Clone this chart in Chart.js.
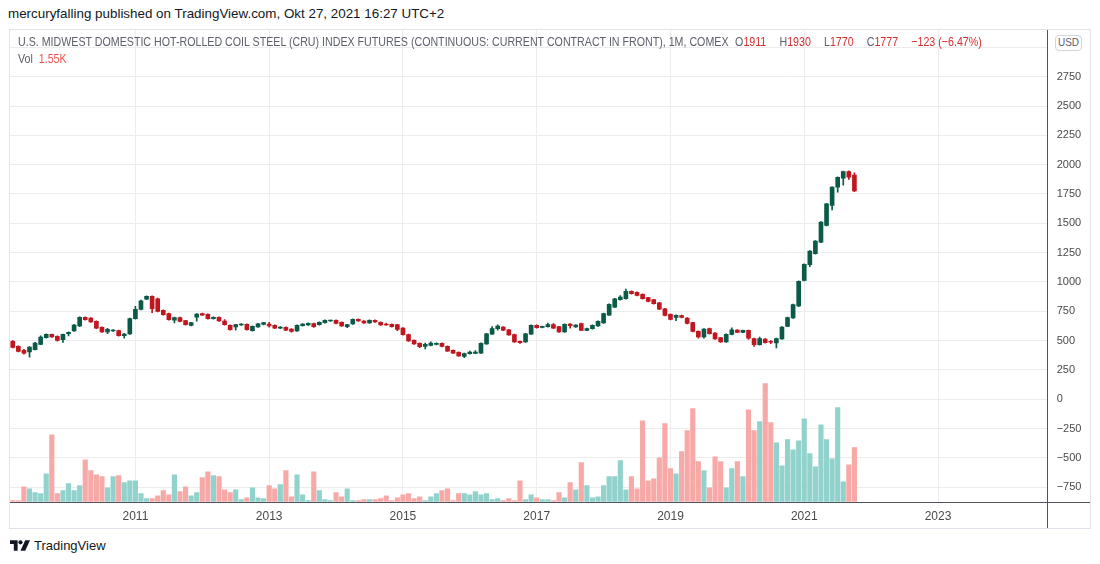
<!DOCTYPE html>
<html>
<head>
<meta charset="utf-8">
<script src="https://cdn.jsdelivr.net/npm/chart.js@4.4.0/dist/chart.umd.min.js"></script>
<style>
  body { margin: 0; background: #fff; width: 1100px; height: 564px; overflow: hidden; font-family: "Liberation Sans", Arial, sans-serif; }
  #pub { position: absolute; left: 8px; top: 6px; font-size: 13.4px; color: #131722; white-space: nowrap; }
  #frame { position: absolute; left: 9px; top: 29px; width: 1080px; height: 498px; border: 1px solid #e0e3eb; }
  #legend { position: absolute; left: 8px; top: 3px; font-size: 13px; color: #5d606b; white-space: nowrap; line-height: 17px;
            transform: scaleX(0.82); transform-origin: 0 0; }
  #legend .r { color: #d32f2f; }
  #legend .g { margin-left: 16px; }
  #legend .g0 { margin-left: 8px; }
  #legend .v { color: #ef5350; }
  #usd { position: absolute; left: 1045px; top: 5px; width: 25px; height: 14px; border: 1px solid #d1d4dc; border-radius: 4px;
         font-size: 10px; color: #5d606b; text-align: center; line-height: 14px; background: #fff; }
  #logo { position: absolute; left: 10px; top: 538px; font-size: 13px; color: #131722; display: flex; align-items: center; }
  #logo svg { margin-right: 4px; }
</style>
</head>
<body>
<div id="pub">mercuryfalling published on TradingView.com, Okt 27, 2021 16:27 UTC+2</div>
<div id="frame">
  <canvas id="my-chart"></canvas>
  <div id="legend">
    <div>U.S. MIDWEST DOMESTIC HOT-ROLLED COIL STEEL (CRU) INDEX FUTURES (CONTINUOUS: CURRENT CONTRACT IN FRONT), 1M, COMEX<span class="g0">O<span class="r">1911</span></span><span class="g">H<span class="r">1930</span></span><span class="g">L<span class="r">1770</span></span><span class="g">C<span class="r">1777</span></span><span class="g r">−123 (−6.47%)</span></div>
    <div>Vol&nbsp;&nbsp;<span class="v">1.55K</span></div>
  </div>
  <div id="usd">USD</div>
</div>
<div id="logo">
  <svg width="20" height="11" viewBox="0 0 21 11"><path d="M0 0h8v11h-4v-7h-4z" fill="#131722"/><circle cx="11" cy="2.2" r="2.2" fill="#131722"/><path d="M16 0h5l-5 11h-5z" fill="#131722"/></svg>
  <span>TradingView</span>
</div>
<script>
// monthly bars, Mar 2009 .. Oct 2021
var open = [494,451,417,403,423,468,525,553,537,508,560,582,625,698,693,664,613,574,582,585,
  542,557,687,766,854,877,857,758,730,674,696,670,630,701,730,724,687,698,667,630,
  616,633,639,585,616,639,642,630,607,613,599,582,627,633,645,636,653,667,673,656,
  619,642,682,667,650,673,656,642,639,636,607,551,502,477,451,460,468,477,451,417,
  400,366,389,392,394,471,556,602,616,593,551,494,488,556,630,613,619,636,619,574,
  641,616,645,588,602,625,650,718,786,849,857,920,911,894,866,849,823,772,724,698,
  713,693,653,579,531,602,565,525,488,553,590,571,587,517,466,514,490,480,514,622,
  693,795,1014,1147,1241,1340,1482,1652,1808,1885,1942,1911];
var high = [500,455,425,450,485,540,558,556,540,556,575,638,702,702,697,668,617,605,594,589,
  562,692,792,845,882,882,862,762,734,700,700,674,657,731,734,728,702,702,680,634,
  640,646,643,626,648,657,655,634,620,617,603,634,646,651,649,660,677,676,677,660,
  640,686,686,671,677,677,660,650,643,640,611,555,506,481,480,490,481,481,455,421,
  404,393,410,415,481,563,620,635,620,597,555,498,563,634,634,625,650,645,623,643,
  645,637,649,606,634,668,734,813,861,885,940,924,915,898,870,853,827,776,728,719,
  717,697,657,583,603,606,569,529,557,610,594,591,591,521,530,518,500,521,620,700,
  811,1010,1155,1268,1352,1515,1670,1812,1897,1946,1948,1930];
var low = [438,403,385,360,420,465,520,528,495,485,540,578,620,675,655,603,570,560,578,538,
  520,553,683,762,850,738,745,717,675,650,660,632,626,665,714,683,684,663,632,589,
  590,629,589,581,612,635,615,603,603,586,572,578,623,629,612,632,649,664,643,621,
  610,638,663,646,646,655,629,629,615,585,547,493,467,440,430,455,464,447,407,390,
  365,355,385,388,390,467,552,590,586,544,484,477,484,552,606,609,615,603,570,570,
  606,612,584,584,598,621,646,714,782,845,853,896,882,853,831,811,765,711,677,670,
  694,643,575,520,520,555,510,484,484,549,567,567,510,450,462,479,475,437,510,618,
  689,790,1010,1130,1237,1335,1478,1615,1765,1825,1875,1770];
var close = [443,409,394,445,480,531,553,531,502,553,570,633,698,679,659,607,574,596,590,542,
  556,687,766,840,877,772,749,721,679,696,664,636,653,727,718,687,698,667,636,593,
  636,642,593,622,644,653,625,607,616,590,579,630,642,647,619,656,673,673,647,625,
  636,682,667,650,673,659,633,633,619,596,551,497,471,448,468,480,477,451,411,394,
  369,389,403,403,477,559,602,625,590,548,488,483,559,630,610,619,636,607,574,639,
  627,633,588,602,630,664,730,809,857,871,920,900,886,857,835,815,769,715,681,715,
  698,647,579,531,599,559,514,488,553,593,571,587,522,466,517,483,486,517,616,696,
  807,1005,1150,1263,1348,1510,1666,1808,1893,1942,1893,1777];
var volume = [30,30,430,370,260,230,800,1920,230,320,520,320,460,1200,890,770,720,400,720,750,
  550,600,600,230,90,90,170,320,200,770,290,430,170,260,690,860,750,720,340,260,
  340,60,110,400,110,90,460,370,490,890,140,770,200,30,860,320,60,30,260,140,
  370,30,30,60,60,60,90,170,30,110,200,230,90,140,30,140,230,320,370,30,
  230,230,200,290,200,230,60,90,30,90,30,600,60,200,110,60,60,30,260,110,
  550,340,1120,460,110,140,460,720,720,1180,340,720,370,2320,600,660,1260,2240,950,800,
  1440,2040,2670,1150,890,400,1290,1150,400,950,1150,720,2640,2040,2300,3390,2270,1690,1030,1780,
  1490,1750,2380,1380,1000,2210,1780,1230,2700,570,1060,1550];
var priceTicks = [-750,-500,-250,0,250,500,750,1000,1250,1500,1750,2000,2250,2500,2750,3000];

// month categories Mar 2009 .. Aug 2024 (empty space on the right)
var months = [];
for (var i = 0; i < 186; i++) {
  var m = (2 + i) % 12 + 1;
  months.push((2009 + Math.floor((2 + i) / 12)) + '-' + (m < 10 ? '0' + m : m));
}

var up = open.map(function (o, i) { return close[i] >= o; });
var candleCol = up.map(function (u) { return u ? '#0b5a48' : '#c0161f'; });
var volCol = up.map(function (u) { return u ? '#92d2cc' : '#f7a9a7'; });

var axisLines = {
  id: 'axisLines',
  afterDraw: function (chart) {
    var c = chart.ctx, a = chart.chartArea;
    c.save();
    c.strokeStyle = '#50535e';
    c.lineWidth = 1;
    c.beginPath();
    c.moveTo(Math.round(a.right) + 0.5, 0);
    c.lineTo(Math.round(a.right) + 0.5, chart.height);
    c.moveTo(0, Math.round(a.bottom) + 0.5);
    c.lineTo(chart.width, Math.round(a.bottom) + 0.5);
    c.stroke();
    c.restore();
  }
};

var ctx = document.getElementById('my-chart').getContext('2d');
var myChart = new Chart(ctx, {
  type: 'bar',
  data: {
    labels: months,
    datasets: [{
      data: open.map(function (o, i) { return [o, close[i]]; }),
      backgroundColor: candleCol,
      barThickness: 4,
      minBarLength: 1,
      grouped: false,
      order: 1
    }, {
      data: low.map(function (l, i) { return [l, high[i]]; }),
      backgroundColor: candleCol,
      barThickness: 1,
      grouped: false,
      order: 2
    }, {
      data: volume,
      yAxisID: 'vol',
      backgroundColor: volCol,
      barThickness: 4.5,
      grouped: false,
      order: 3
    }]
  },
  options: {
    responsive: true,
    maintainAspectRatio: false,
    animation: false,
    layout: { padding: 0 },
    plugins: { legend: { display: false }, tooltip: { enabled: false } },
    scales: {
      x: {
        offset: true,
        grid: {
          offset: false,
          drawTicks: false,
          color: function (c) { return c.tick && c.tick.label ? '#ececec' : 'rgba(0,0,0,0)'; }
        },
        border: { display: false },
        ticks: {
          autoSkip: false,
          maxRotation: 0,
          padding: 8,
          color: '#4a4a4a',
          font: { family: 'Liberation Sans', size: 12 },
          callback: function (v, i) {
            var s = months[i];
            var y = +s.slice(0, 4);
            return s.slice(5) === '01' && y % 2 === 1 ? String(y) : '';
          }
        },
        afterFit: function (s) { s.height = 26.3; s.paddingLeft = 0; s.paddingRight = 0; }
      },
      y: {
        position: 'right',
        min: -873,
        max: 3148,
        afterBuildTicks: function (s) { s.ticks = priceTicks.map(function (v) { return { value: v }; }); },
        grid: { color: '#ececec', drawTicks: false },
        border: { display: false },
        ticks: {
          padding: 10,
          color: '#4a4a4a',
          font: { family: 'Liberation Sans', size: 11 },
          callback: function (v) { return v > 2750 ? '' : (v < 0 ? '−' + Math.abs(v) : v); }
        },
        afterFit: function (s) { s.width = 43.3; s.paddingTop = 0; s.paddingBottom = 0; }
      },
      vol: {
        display: false,
        min: 0,
        max: 13540
      }
    }
  },
  plugins: [axisLines]
});
</script>
</body>
</html>
